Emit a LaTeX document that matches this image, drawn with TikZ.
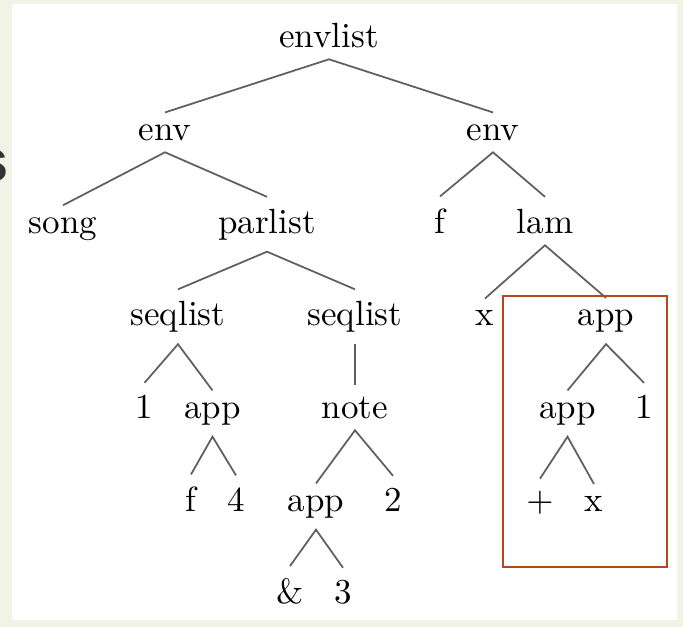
\documentclass[tikz,border=0pt]{standalone}
\usepackage{fontspec}
\newfontfamily\fragfont{Liberation Sans}
\definecolor{bgc}{RGB}{241,243,231}
\definecolor{boxc}{RGB}{182,70,28}
\definecolor{edgec}{RGB}{95,95,95}
\begin{document}
\begin{tikzpicture}[x=0.2857pt,y=-0.2857pt,
  t/.style={anchor=base, inner xsep=0pt, inner ysep=3.2pt, text=black},
  edge/.style={draw=edgec, line width=0.5pt}]
\useasboundingbox (0,0) rectangle (683,627);
\fill[bgc] (0,0) rectangle (683,627);
\fill[white] (12,4) rectangle (677,620);
% clipped fragment of a letter at the left edge
\begin{scope}
  \clip (0,0) rectangle (9,627);
  \node[anchor=base east, inner sep=0pt, text=black!80,
        font=\fragfont\bfseries\fontsize{17}{20}\selectfont] (frag) at (9.5,181) {s};
\end{scope}
% nodes
\node[t] (envlist) at (329,47) {envlist};
\node[t] (envA) at (165,140) {env};
\node[t] (envB) at (493,140) {env};
\node[t] (song) at (63,233) {song};
\node[t] (parlist) at (267,233) {parlist};
\node[t] (fA) at (440,233) {f};
\node[t] (lam) at (545,233) {lam};
\node[t] (seqA) at (178,325.5) {seqlist};
\node[t] (seqB) at (355,325.5) {seqlist};
\node[t] (xA) at (485,325.5) {x};
\node[t] (appT) at (606,325.5) {app};
\node[t] (oneA) at (144.5,418) {1};
\node[t] (appA) at (212.5,418) {app};
\node[t] (note) at (355,418) {note};
\node[t] (appM) at (567.5,418) {app};
\node[t] (oneB) at (644,418) {1};
\node[t] (fB) at (191,511) {f};
\node[t] (four) at (236,511) {4};
\node[t] (appN) at (316,511) {app};
\node[t] (two) at (393,511) {2};
\node[t] (plus) at (540,511) {$+$};
\node[t] (xB) at (594,511) {x};
\node[t] (amp) at (290,603) {\&};
\node[t] (three) at (343,603) {3};
% edges
\draw[edge] (envA.north) -- (envlist.south) -- (envB.north);
\draw[edge] (song.north) -- (envA.south) -- (parlist.north);
\draw[edge] (fA.north) -- (envB.south) -- (lam.north);
\draw[edge] (seqA.north) -- (parlist.south) -- (seqB.north);
\draw[edge] (xA.north) -- (lam.south) -- (appT.north);
\draw[edge] (oneA.north) -- (seqA.south) -- (appA.north);
\draw[edge] (seqB.south) -- (note.north);
\draw[edge] (appM.north) -- (appT.south) -- (oneB.north);
\draw[edge] (fB.north) -- (appA.south) -- (four.north);
\draw[edge] (appN.north) -- (note.south) -- (two.north);
\draw[edge] (plus.north) -- (appM.south) -- (xB.north);
\draw[edge] (amp.north) -- (appN.south) -- (three.north);
% highlight box
\draw[boxc, line width=0.75pt] (503,296) rectangle (667,567);
\end{tikzpicture}
\end{document}
